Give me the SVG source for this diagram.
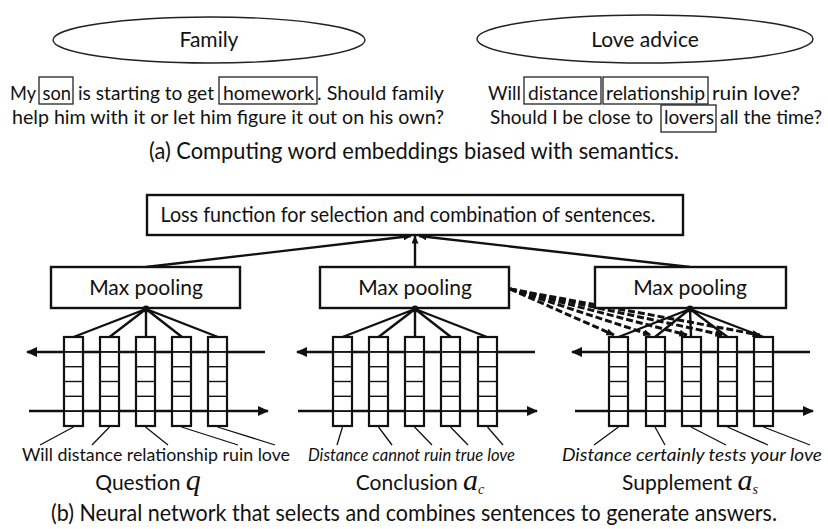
<svg xmlns="http://www.w3.org/2000/svg" width="828" height="529" viewBox="0 0 828 529">
<defs>
<style>
.t{font-family:Lato,"Liberation Sans",sans-serif;font-size:21px;fill:#111}
.s{font-family:Lato,"Liberation Sans",sans-serif;font-size:19.5px;fill:#111}
.cap{font-family:Lato,"Liberation Sans",sans-serif;font-size:23px;fill:#111}
.sm{font-family:Lato,"Liberation Sans",sans-serif;font-size:17px;fill:#111}
.it{font-style:italic}
.math{font-family:"Liberation Serif","Times New Roman",serif;font-style:italic;fill:#111}
.ell{fill:#fff;stroke:#222;stroke-width:1.4}
.wb{fill:none;stroke:#222;stroke-width:1.3}
.box{fill:#fff;stroke:#111;stroke-width:2.4}
.cell{fill:#fff;stroke:#111;stroke-width:2.2}
.div{stroke:#111;stroke-width:1.4}
.ln{stroke:#111;stroke-width:2.4;fill:none}
.thin{stroke:#111;stroke-width:1.3;fill:none}
.dash{stroke:#111;stroke-width:3;fill:none;stroke-dasharray:7 3}
</style>
<marker id="ah" markerWidth="11" markerHeight="10" refX="10" refY="5" orient="auto" markerUnits="userSpaceOnUse"><path d="M0,0 L11,5 L0,10 z" fill="#111"/></marker>
<marker id="ahs" markerWidth="8" markerHeight="7" refX="7.5" refY="3.5" orient="auto" markerUnits="userSpaceOnUse"><path d="M0,0 L8,3.5 L0,7 z" fill="#111"/></marker>
<g id="cells">
<rect class="cell" x="0" y="0" width="19" height="89"/>
<line class="div" x1="0" y1="14.8" x2="19" y2="14.8"/>
<line class="div" x1="0" y1="29.7" x2="19" y2="29.7"/>
<line class="div" x1="0" y1="44.5" x2="19" y2="44.5"/>
<line class="div" x1="0" y1="59.3" x2="19" y2="59.3"/>
<line class="div" x1="0" y1="74.2" x2="19" y2="74.2"/>
</g>
</defs>
<rect width="828" height="529" fill="#fff"/>

<!-- Part (a) -->
<g id="node-family">
<ellipse class="ell" cx="209" cy="40" rx="156" ry="23"/>
<text class="t" x="209" y="47" text-anchor="middle">Family</text>
</g>
<g id="node-love-advice">
<ellipse class="ell" cx="645" cy="39" rx="168" ry="24"/>
<text class="t" x="645" y="47" text-anchor="middle">Love advice</text>
</g>
<g id="text-family">
<text class="s" x="10" y="100" textLength="26" lengthAdjust="spacingAndGlyphs">My</text>
<rect class="wb" x="39" y="77" width="34" height="27"/>
<text class="s" x="42.5" y="100" textLength="28.5" lengthAdjust="spacingAndGlyphs">son</text>
<text class="s" x="78" y="100" textLength="136" lengthAdjust="spacingAndGlyphs">is starting to get</text>
<rect class="wb" x="219" y="77" width="98" height="27"/>
<text class="s" x="223" y="100" textLength="91" lengthAdjust="spacingAndGlyphs">homework</text>
<text class="s" x="317" y="100" textLength="127" lengthAdjust="spacingAndGlyphs">. Should family</text>
<text class="s" x="12" y="124" textLength="432" lengthAdjust="spacingAndGlyphs">help him with it or let him figure it out on his own?</text>
</g>
<g id="text-love">
<text class="s" x="488" y="100" textLength="33" lengthAdjust="spacingAndGlyphs">Will</text>
<rect class="wb" x="524" y="77" width="77" height="27"/>
<text class="s" x="528" y="100" textLength="70" lengthAdjust="spacingAndGlyphs">distance</text>
<rect class="wb" x="603" y="77" width="105" height="27"/>
<text class="s" x="606" y="100" textLength="99" lengthAdjust="spacingAndGlyphs">relationship</text>
<text class="s" x="712" y="100" textLength="88" lengthAdjust="spacingAndGlyphs">ruin love?</text>
<text class="s" x="490" y="124" textLength="163" lengthAdjust="spacingAndGlyphs">Should I be close to</text>
<rect class="wb" x="661" y="105" width="55" height="27"/>
<text class="s" x="664" y="124" textLength="50" lengthAdjust="spacingAndGlyphs">lovers</text>
<text class="s" x="720" y="124" textLength="102" lengthAdjust="spacingAndGlyphs">all the time?</text>
</g>
<text id="caption-a" class="cap" x="414" y="159" text-anchor="middle" textLength="530" lengthAdjust="spacingAndGlyphs">(a) Computing word embeddings biased with semantics.</text>

<!-- Part (b) -->
<g id="connectors">
<line class="ln" x1="146" y1="267" x2="411" y2="236" marker-end="url(#ahs)"/>
<line class="ln" x1="415" y1="267" x2="415" y2="236" marker-end="url(#ahs)"/>
<line class="ln" x1="690" y1="267" x2="419" y2="236" marker-end="url(#ahs)"/>
<line class="dash" x1="510" y1="289" x2="614" y2="335" marker-end="url(#ahs)"/>
<line class="dash" x1="510" y1="289" x2="651" y2="335" marker-end="url(#ahs)"/>
<line class="dash" x1="510" y1="289" x2="687" y2="335" marker-end="url(#ahs)"/>
<line class="dash" x1="510" y1="289" x2="723" y2="335" marker-end="url(#ahs)"/>
<line class="dash" x1="510" y1="289" x2="760" y2="335" marker-end="url(#ahs)"/>
<g class="ln">
<path d="M146,309 L73.5,337 M146,309 L109.5,337 M146,309 L146,337 M146,309 L182,337 M146,309 L218,337"/>
<path d="M415,309 L342.5,337 M415,309 L378.5,337 M415,309 L415,337 M415,309 L451,337 M415,309 L487,337"/>
<path d="M690,309 L618.5,337 M690,309 L655,337 M690,309 L691,337 M690,309 L727.5,337 M690,309 L763.5,337"/>
</g>
<g class="thin">
<path d="M73.5,427 L40,445 M109.5,427 L92,445 M145.5,427 L168,445 M181.5,427 L238,445 M217.5,427 L275,445"/>
<path d="M342.5,427 L337,445 M378.5,427 L392,445 M414.5,427 L432,445 M450.5,427 L468,445 M487.5,427 L503,445"/>
<path d="M618.5,427 L594,445 M655,427 L665,445 M691,427 L726,445 M727.5,427 L768,445 M763.5,427 L810,445"/>
</g>
</g>

<g id="node-loss">
<rect class="box" x="147" y="195" width="536" height="40"/>
<text class="t" x="408" y="222" text-anchor="middle" textLength="495" lengthAdjust="spacingAndGlyphs">Loss function for selection and combination of sentences.</text>
</g>
<g id="node-maxpool-q">
<rect class="box" x="51" y="267" width="189" height="41"/>
<text class="t" x="146" y="295" text-anchor="middle">Max pooling</text>
<circle cx="146" cy="309" r="3.5" fill="#111"/>
</g>
<g id="node-maxpool-ac">
<rect class="box" x="320" y="267" width="189" height="41"/>
<text class="t" x="415" y="295" text-anchor="middle">Max pooling</text>
<circle cx="415" cy="309" r="3.5" fill="#111"/>
</g>
<g id="node-maxpool-as">
<rect class="box" x="595" y="267" width="191" height="41"/>
<text class="t" x="690" y="295" text-anchor="middle">Max pooling</text>
<circle cx="690" cy="309" r="3.5" fill="#111"/>
</g>

<g id="node-encoder-q">
<line class="ln" x1="265" y1="352" x2="27" y2="352" marker-end="url(#ah)"/>
<line class="ln" x1="29" y1="411" x2="268" y2="411" marker-end="url(#ah)"/>
<use href="#cells" x="64" y="337"/>
<use href="#cells" x="100" y="337"/>
<use href="#cells" x="136" y="337"/>
<use href="#cells" x="172" y="337"/>
<use href="#cells" x="208" y="337"/>
<line class="div" x1="27" y1="352" x2="265" y2="352"/>
<line class="div" x1="29" y1="411" x2="260" y2="411"/>
</g>
<g id="node-encoder-ac">
<line class="ln" x1="535" y1="352" x2="297" y2="352" marker-end="url(#ah)"/>
<line class="ln" x1="298" y1="411" x2="537" y2="411" marker-end="url(#ah)"/>
<use href="#cells" x="333" y="337"/>
<use href="#cells" x="369" y="337"/>
<use href="#cells" x="405" y="337"/>
<use href="#cells" x="441" y="337"/>
<use href="#cells" x="478" y="337"/>
<line class="div" x1="297" y1="352" x2="535" y2="352"/>
<line class="div" x1="298" y1="411" x2="529" y2="411"/>
</g>
<g id="node-encoder-as">
<line class="ln" x1="810" y1="352" x2="572" y2="352" marker-end="url(#ah)"/>
<line class="ln" x1="575" y1="411" x2="813" y2="411" marker-end="url(#ah)"/>
<use href="#cells" x="609" y="337"/>
<use href="#cells" x="646" y="337"/>
<use href="#cells" x="682" y="337"/>
<use href="#cells" x="718" y="337"/>
<use href="#cells" x="754" y="337"/>
<line class="div" x1="572" y1="352" x2="810" y2="352"/>
<line class="div" x1="575" y1="411" x2="805" y2="411"/>
</g>

<g id="sentences">
<text class="sm" x="22" y="461" textLength="268" lengthAdjust="spacingAndGlyphs">Will distance relationship ruin love</text>
<text class="sm it" x="308" y="461" textLength="207" lengthAdjust="spacingAndGlyphs">Distance cannot ruin true love</text>
<text class="sm it" x="562" y="461" textLength="260" lengthAdjust="spacingAndGlyphs">Distance certainly tests your love</text>
</g>
<g id="labels">
<text x="148" y="490" text-anchor="middle"><tspan class="t" font-size="20">Question </tspan><tspan class="math" font-size="30">q</tspan></text>
<text x="420" y="490" text-anchor="middle"><tspan class="t" font-size="20">Conclusion </tspan><tspan class="math" font-size="30">a</tspan><tspan class="math" font-size="14" dy="4">c</tspan></text>
<text x="690" y="490" text-anchor="middle"><tspan class="t" font-size="20">Supplement  </tspan><tspan class="math" font-size="30">a</tspan><tspan class="math" font-size="14" dy="4">s</tspan></text>
</g>
<text id="caption-b" class="cap" x="414" y="521" text-anchor="middle" textLength="726" lengthAdjust="spacingAndGlyphs">(b) Neural network that selects and combines sentences to generate answers.</text>
</svg>
